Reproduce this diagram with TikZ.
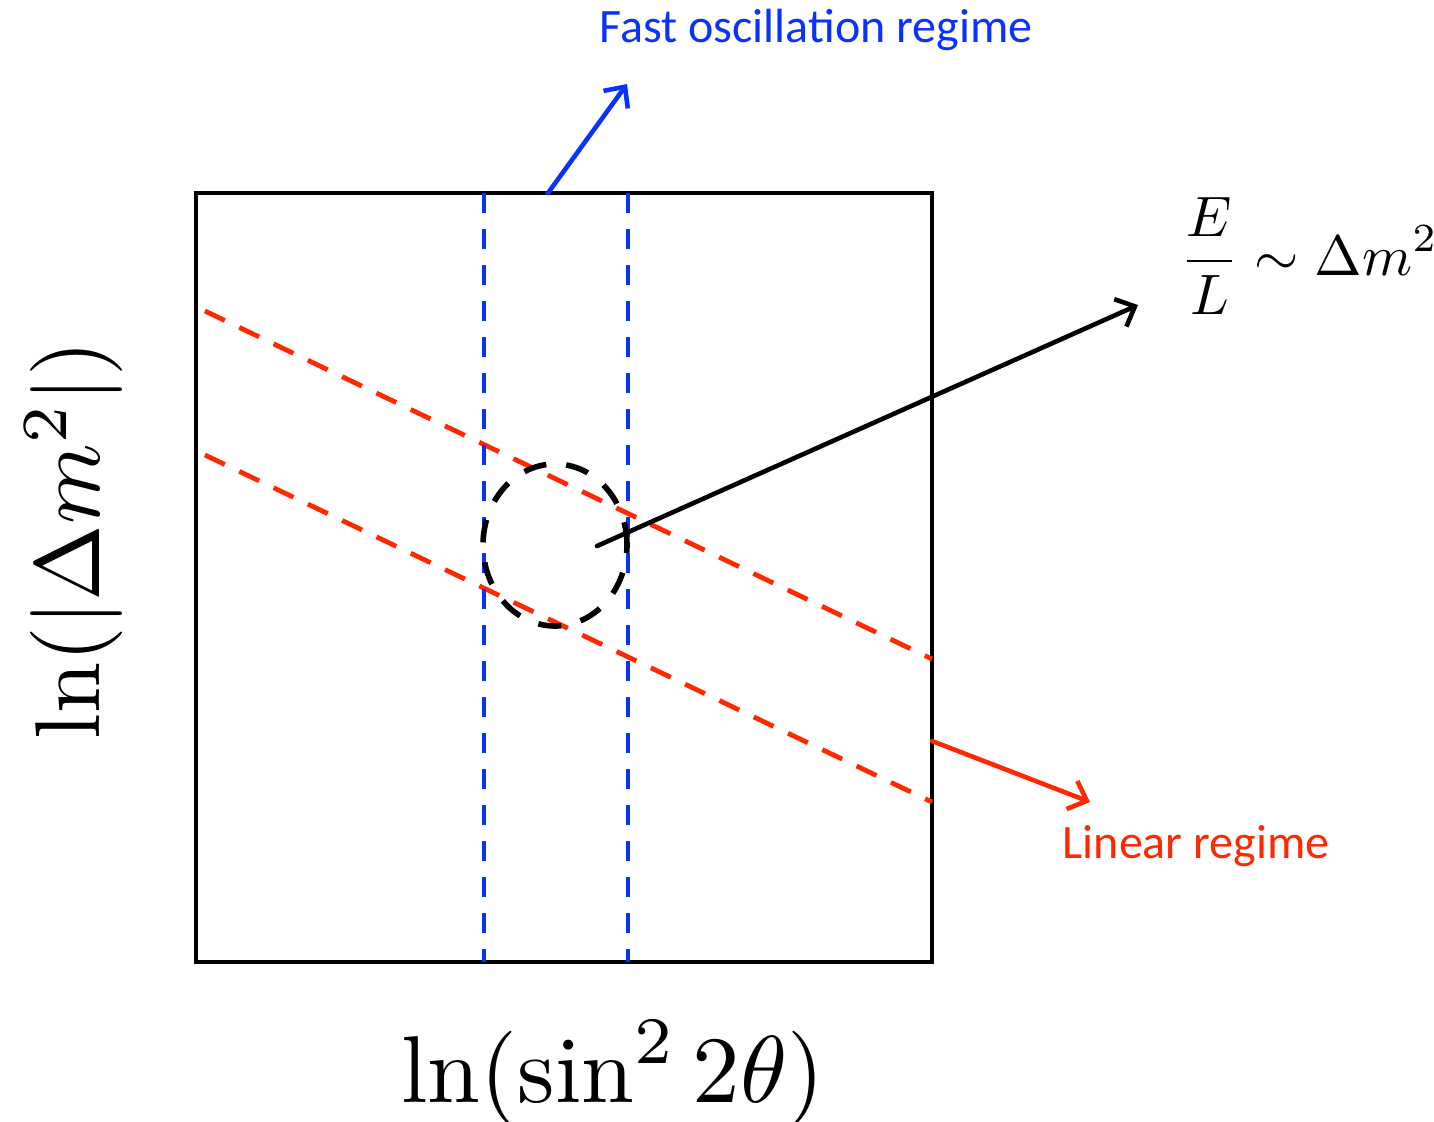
\documentclass[tikz,border=0pt]{standalone}
\usepackage{fontspec}
\newfontfamily\calib{Carlito}
\usetikzlibrary{arrows.meta,shapes.geometric}
\definecolor{myblue}{RGB}{10,50,255}
\definecolor{myred}{RGB}{255,40,0}
\tikzset{
  frameline/.style={draw=black, line width=2.4pt},
  bluedash/.style={draw=myblue, line width=2.4pt, dash pattern=on 10pt off 8pt},
  reddash/.style={draw=myred, line width=2.4pt, dash pattern=on 11pt off 8pt},
  circdash/.style={draw=black, line width=2.8pt, dash pattern=on 11.5pt off 10pt},
  arr/.style={line width=2.3pt, line cap=round, -{Straight Barb[length=8pt,width=15pt,line width=2.3pt]}},
  lbl/.style={inner sep=0pt, font=\calib\fontsize{24}{29}\selectfont},
  mathlbl/.style={inner sep=0pt, font=\fontsize{10}{12}\selectfont},
}
\begin{document}
\begin{tikzpicture}[x=0.5pt,y=-0.5pt]
\useasboundingbox (0,0) rectangle (1434,1121);
% frame
\node[frameline, minimum width=368pt, minimum height=384.5pt, inner sep=0pt] (frame) at (564,577.5) {};
% coordinates
\coordinate (b1t) at (484,193); \coordinate (b1b) at (484,962);
\coordinate (b2t) at (628,193); \coordinate (b2b) at (628,962);
\coordinate (r1a) at (205,311); \coordinate (r1b) at (932,659);
\coordinate (r2a) at (205,455); \coordinate (r2b) at (932,802);
% dashed lines
\draw[reddash] (r1a) -- (r1b);
\draw[reddash] (r2a) -- (r2b);
\draw[bluedash] (b1t) -- (b1b);
\draw[bluedash] (b2t) -- (b2b);
% circle
\node[ellipse, circdash, minimum width=72pt, minimum height=81pt, inner sep=0pt] (circ) at (555,545) {};
% labels
\node[lbl, text=myblue] (fast) at (816,30) {Fast oscillation regime};
\node[lbl, text=myred] (lin) at (1196,846) {Linear regime};
\node[mathlbl, scale=2.85] (rel) at (1309,256) {$\displaystyle\frac{E}{L}\sim\Delta m^2$};
\node[mathlbl, scale=4.75] (xl) at (613,1073) {$\ln(\sin^2 2\theta)$};
\node[mathlbl, scale=4.6, rotate=90] (yl) at (74,540) {$\ln(|\Delta m^2|)$};
% arrows
\coordinate (fa) at (548,193); \coordinate (fb) at (627,84);
\coordinate (ra) at (932,741); \coordinate (rb) at (1090,802);
\coordinate (ka) at (597,546); \coordinate (kb) at (1138,305);
\draw[arr, myblue] (fa) -- (fb);
\draw[arr, myred] (ra) -- (rb);
\draw[arr, black] (ka) -- (kb);
\end{tikzpicture}
\end{document}
